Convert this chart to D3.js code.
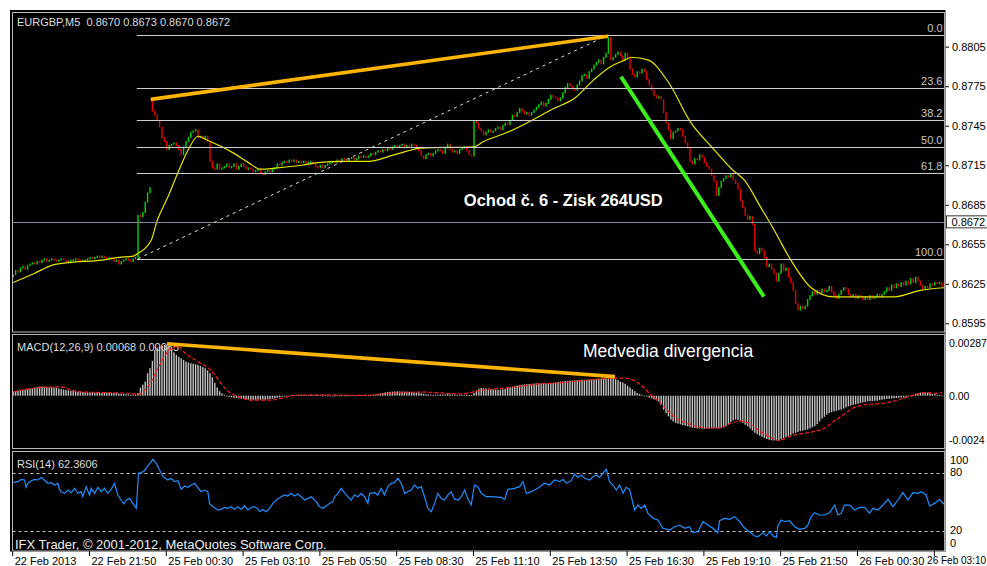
<!DOCTYPE html>
<html><head><meta charset="utf-8">
<script src="https://cdn.jsdelivr.net/npm/d3@7"></script>
<style>
html,body{margin:0;padding:0;background:#fff;overflow:hidden;}
svg{display:block;}
text{font-family:"Liberation Sans",Arial,sans-serif;}
</style></head><body>
<svg id="chart" width="987" height="566"></svg>
<script>
// ---------------- DATA ----------------
const headerLabel = "EURGBP,M5  0.8670 0.8673 0.8670 0.8672";
const macdLabel = "MACD(12,26,9) 0.00068 0.00085";
const rsiLabel = "RSI(14) 62.3606";
const copyrightLabel = "IFX Trader, \u00A9 2001-2012, MetaQuotes Software Corp.";
const tradeNote = "Ochod \u010D. 6 - Zisk 264USD";
const divergenceNote = "Medvedia divergencia";

// closes per 5-minute bar, in 1/10000 of a pound (8632 = 0.8632)
const closes = [
8632,8635,8634,8637,8638,8636,8639,8640,8641,8640,
8642,8641,8643,8644,8642,8643,8644,8643,8642,8643,
8644,8643,8642,8642,8643,8643,8644,8643,8642,8643,
8643,8644,8645,8644,8645,8646,8645,8646,8645,8644,
8645,8644,8642,8643,8640,8642,8643,8644,8643,8642,
8644,8645,8677,8676,8679,8687,8694,8698,8756,8753,
8749,8744,8736,8733,8727,8730,8731,8732,8730,8727,
8723,8729,8733,8736,8740,8741,8742,8736,8737,8735,
8737,8733,8718,8713,8712,8716,8712,8713,8714,8716,
8713,8714,8716,8712,8714,8716,8714,8712,8713,8712,
8710,8711,8712,8709,8708,8710,8711,8710,8712,8713,
8716,8715,8717,8718,8717,8719,8718,8719,8717,8718,
8717,8718,8716,8717,8718,8716,8714,8713,8715,8713,
8715,8716,8717,8718,8717,8719,8718,8720,8719,8718,
8720,8721,8719,8720,8722,8721,8722,8721,8722,8724,
8723,8725,8726,8725,8727,8726,8728,8727,8729,8730,
8729,8730,8731,8729,8730,8729,8731,8730,8728,8726,
8722,8720,8723,8724,8722,8724,8726,8727,8726,8724,
8728,8731,8727,8725,8726,8724,8727,8728,8729,8726,
8723,8722,8749,8747,8743,8741,8738,8740,8742,8740,
8741,8743,8744,8742,8745,8747,8746,8749,8753,8752,
8755,8758,8756,8754,8755,8753,8755,8757,8759,8761,
8763,8760,8762,8765,8768,8767,8766,8764,8766,8770,
8774,8777,8775,8773,8772,8776,8779,8783,8784,8781,
8786,8788,8791,8793,8795,8792,8797,8800,8812,8795,
8797,8799,8801,8798,8795,8800,8796,8788,8784,8782,
8786,8785,8788,8786,8780,8776,8772,8768,8766,8767,
8765,8755,8747,8742,8735,8740,8741,8743,8742,8737,
8732,8728,8718,8716,8720,8719,8723,8721,8717,8714,
8712,8707,8703,8692,8698,8703,8705,8707,8706,8708,
8704,8701,8697,8688,8683,8677,8674,8676,8670,8650,
8648,8652,8650,8645,8638,8640,8636,8633,8627,8633,
8640,8635,8637,8630,8626,8620,8610,8605,8608,8606,
8608,8613,8616,8619,8617,8620,8618,8621,8619,8620,
8623,8619,8616,8614,8617,8620,8622,8621,8617,8615,
8617,8614,8616,8615,8613,8615,8613,8616,8614,8615,
8617,8615,8617,8619,8622,8620,8624,8622,8625,8623,
8626,8624,8627,8625,8629,8626,8630,8627,8624,8621,
8623,8622,8625,8624,8626,8625,8626,8623,8622
];
// opens that differ from the previous close (first bar, Monday gap)
const explicitOpens = [[0, 8630], [58, 8766]];

// moving average: [bar, price*1e4]
const maPoints = [
[0,8626],[9,8633],[16,8639],[23,8641],[37,8643],[44,8645],[50,8646],[52,8648],
[57.5,8658],[60,8673],[64.5,8691],[69,8711],[73,8727],[77,8737],[81,8734],[87,8729],
[92,8724],[98,8717],[103,8712],[110,8713],[120,8715],[127,8717],[137,8718],[148,8718],
[159,8723],[170,8728],[192,8729],[196,8733],[206,8740],[216,8749],[224,8757],[234,8766],
[242,8780],[249,8790],[255,8795],[257.5,8797],[264.5,8795],[273,8778],[282.5,8747],
[291,8729],[300,8711],[304.5,8704],[311.5,8683],[317,8666],[324,8643],[332.5,8622],
[342,8615],[356,8615],[367,8615],[378,8620],[388,8622]
];

// MACD histogram per bar, in 1e-5
const macdHist = [
23,25,28,30,32,34,36,39,42,44,
47,50,50,49,48,47,47,45,42,39,
36,34,31,29,27,25,24,22,21,20,
19,18,18,17,17,16,16,15,16,17,
17,16,15,14,12,10,9,8,7,6,
5,6,15,43,60,77,122,150,190,249,
262,268,272,276,274,268,249,236,222,212,
204,195,186,181,177,174,171,168,162,156,
150,138,122,100,70,45,25,13,5,-4,
-7,-9,-11,-12,-14,-16,-18,-20,-21,-22,
-22,-23,-22,-22,-21,-22,-20,-18,-16,-15,
-12,-9,-6,-3,-1,0,2,3,4,5,
5,4,5,3,4,3,2,3,2,1,
2,1,1,0,1,2,1,2,1,2,
2,3,2,3,2,3,3,2,3,4,
5,7,9,12,15,18,20,21,22,23,
24,23,23,22,22,21,20,19,17,15,
13,10,8,7,6,5,5,6,7,6,
7,9,8,7,6,5,4,5,6,5,
4,3,15,28,38,42,41,40,38,36,
34,33,32,33,35,38,42,46,50,52,
55,58,60,62,63,64,65,66,67,68,
67,66,67,68,69,70,72,74,77,78,
80,81,82,83,84,85,86,87,87,88,
88,89,90,91,92,93,94,95,96,96,
95,90,85,77,72,65,55,45,35,25,
15,10,5,0,-5,-10,-14,-20,-25,-31,
-50,-76,-95,-112,-130,-140,-148,-152,-156,-160,
-163,-167,-170,-174,-176,-178,-179,-180,-180,-179,
-178,-178,-177,-176,-175,-174,-172,-168,-157,-145,
-135,-130,-132,-139,-148,-158,-166,-178,-190,-202,
-210,-218,-224,-230,-236,-240,-243,-244,-243,-241,
-238,-232,-226,-220,-214,-206,-202,-198,-193,-190,
-187,-184,-178,-172,-166,-155,-140,-125,-115,-103,
-95,-90,-85,-82,-79,-76,-70,-64,-58,-54,
-50,-47,-44,-40,-37,-34,-31,-30,-29,-28,
-27,-24,-22,-20,-18,-17,-15,-14,-13,-12,
-10,-9,-7,-5,-2,2,10,13,17,18,
18,17,14,10,8,5,3,2,-2
];

// MACD signal line: [bar, value*1e5]
const macdSignal = [
[0,20],[11.7,45],[20,48],[24,32],[28,21],[37,17],[49,12],[52,8],[57.5,77],[60,141],
[63,213],[66,260],[69,268],[71,240],[77,185],[82.5,137],[87,60],[89.5,25],[94,-5],
[99,-24],[107,-24],[113,-10],[116,0],[128,5],[145,2],[159,15],[170,20],[178,15],
[187,10],[195,30],[203,40],[212,52],[219,64],[228,70],[237,82],[245,92],[251,96],
[255,96],[259,80],[263,42],[266,0],[269,-31],[273,-85],[277,-130],[281,-150],
[285,-170],[290,-177],[294,-177],[299,-150],[303,-139],[307.5,-157],[310,-184],
[314.6,-220],[319,-244],[321,-238],[324,-220],[327,-211],[331,-202],[338,-177],
[342,-139],[346,-103],[350,-67],[354.6,-50],[359,-45],[364.6,-37],[369,-22],
[373,-5],[377,10],[380,17],[384,13],[387,17]
];

// RSI(14): [bar, value]
const rsiPoints = [
[0,70],[2,70.7],[3.3,73],[4.7,72.4],[5.4,64.8],[6.1,69],[7.5,71.7],[8.9,73],[10.3,72.4],
[11.7,75],[13,72.4],[14.4,69],[15.8,69.6],[17.2,67.2],[18.6,69],[19.3,62.7],[20,60.3],
[21.4,58.6],[22.8,62],[24.2,59.3],[25.6,63.8],[26.9,58.6],[28.3,60.3],[29,55.1],
[30.4,65.5],[31.8,56.9],[32.5,63.8],[33.9,58.6],[35.3,64.8],[36.7,60.3],[38,63.8],
[39.4,58.6],[40.8,62.7],[42.2,69],[43.6,56.9],[45,51.7],[46.1,47.6],[47.1,51.7],
[48.5,53.4],[49.9,48.2],[51.3,43.1],[52.2,79.3],[53.3,80],[54.7,82],[56.1,86.9],
[58.2,93.7],[59.6,89.6],[61,82.7],[62.4,75.8],[64.4,72.4],[65.8,74.1],[67.2,70.7],
[68.6,71.7],[70,62.7],[71.4,66.2],[72.8,64.8],[74.2,67.2],[75.6,69],[76.9,64.8],
[78.3,60.3],[79.7,62],[81.1,60.3],[81.8,48.2],[83.2,44.8],[85.3,41.4],[86.7,42],
[88.1,44.1],[89.4,43.1],[90.8,44.8],[92.2,42],[93.6,44.8],[95,42],[96.4,45.5],
[97.8,41.4],[99.2,44.1],[100.6,44.8],[101.9,43.1],[102.6,39.6],[104,42],[105.4,39.6],
[106.8,43.1],[108.2,48.2],[109.6,51.7],[111.7,55.1],[113.1,56.9],[114.4,55.8],
[115.8,58.6],[117.2,55.8],[118.6,57.9],[120,55.1],[121.4,51.7],[122.8,53.4],
[124.2,55.1],[126.3,50],[127.6,44.8],[129,43.1],[130.4,45.5],[131.8,48.2],[133.2,50],
[133.9,55.1],[135.3,58.6],[136.7,63.8],[138,59.3],[139.4,55.1],[140.8,51.7],
[142.2,56.9],[143.6,55.1],[145,58.6],[146.4,55.1],[147.8,48.2],[148.5,58.6],
[150.6,59.3],[151.9,56.9],[153.3,63.8],[154.7,56.9],[156.1,65.5],[157.5,69],
[158.9,69.6],[160.3,74.1],[161.7,69],[163.1,58.6],[164.4,60.3],[165.8,62],[167.2,67.2],
[168.6,63.8],[170,65.5],[171.4,55.1],[172.8,43.1],[174.2,39.6],[175.6,48.2],
[176.9,58.6],[178.3,53.4],[179.7,51.7],[181.1,56.9],[182.5,60.3],[183.9,52.4],
[185.3,51.7],[186.7,55.1],[188.1,62],[189.4,53.4],[190.8,46.5],[192.2,67.2],
[193.6,65.5],[195,58.6],[197.1,55.1],[199.2,55.1],[203.3,54.5],[204.8,52.4],
[206.1,62.7],[208.9,63.8],[211,65.5],[212.4,70.7],[213.8,58.6],[215.9,60.3],
[218.6,63.8],[221.4,69],[223.5,67.2],[225.6,72.4],[227.7,70.7],[229.1,73],[230.5,69],
[232.5,71.7],[233.9,78.6],[235.3,75.1],[236.7,77.5],[238.1,74.1],[240.2,72.4],
[241.6,75.8],[243,77.5],[244.3,75.1],[245.7,79.3],[247.1,83.4],[248.5,70.7],
[249.9,67.2],[251.3,62],[252.7,67.2],[254.1,58.6],[255.4,64.8],[256.8,62.7],
[258.9,41.4],[260.3,46.5],[261.7,43.1],[263.1,46.5],[264.5,37.9],[266.6,32.7],
[268.6,31],[270.7,22.4],[273.5,20.7],[275.6,24.1],[277.7,25.8],[279.8,22.4],
[281.8,24.1],[283.2,17.9],[285.3,18.9],[287.4,29.3],[289.5,25.8],[291.6,22.4],
[293.6,17.9],[294.3,30.3],[296.4,32.7],[298.5,31.7],[300.6,34.5],[302.7,29.3],
[304.8,22.4],[306.8,18.9],[308.9,14.5],[310.3,13.8],[312.4,17.9],[313.8,14.5],
[315.2,18.9],[316.6,14.5],[318,13.1],[318.6,24.8],[320,31],[321.4,29.3],[323.5,30.3],
[325.6,24.1],[327.7,21.4],[329.8,22.4],[331.1,25.8],[332.5,34.5],[333.9,38.6],
[336,36.2],[338.1,36.2],[340.2,38.6],[342.3,46.5],[343.6,36.2],[345,37.9],[346.4,46.5],
[348.5,46.5],[350.6,41.4],[352.7,44.1],[354.8,44.1],[356.8,37.9],[358.2,43.1],
[360.3,41.4],[362.4,46.5],[364.5,52.4],[366.6,44.8],[368.6,51.7],[370.7,59.3],
[372.8,51.7],[374.9,59.3],[377,58.6],[378.4,60.3],[380.4,56.9],[381.8,45.5],
[383.9,48.2],[386,52.4],[387.4,48.2],[388,47.6]
];

// axes
const priceTicks = [0.8805, 0.8775, 0.8745, 0.8715, 0.8685, 0.8655, 0.8625, 0.8595];
const currentPrice = 0.8672;
const macdTicks = [287, 0, -240];
const macdTickLabels = ["0.00287", "0.00", "-0.0024"];
const rsiTicks = [100, 80, 20, 0];
const rsiLevels = [80, 20];
const timeTickBars = [0, 32, 64, 96, 128, 160, 192, 224, 256, 288, 320, 352, 384];
const timeLabels = ["22 Feb 2013","22 Feb 21:50","25 Feb 00:30","25 Feb 03:10","25 Feb 05:50",
  "25 Feb 08:30","25 Feb 11:10","25 Feb 13:50","25 Feb 16:30","25 Feb 19:10",
  "25 Feb 21:50","26 Feb 00:30","26 Feb 03:10"];

// Fibonacci retracement
const fibLevels = [0, 23.6, 38.2, 50, 61.8, 100];
const fibHigh = 0.8814, fibLow = 0.8644;
const fibLowBar = 52, fibHighBar = 248;

// drawn trend lines: [bar, value]
const orangePriceLine = [[57.3, 0.8765], [247.8, 0.8813]];
const orangeMacdLine = [[64.1, 283], [250.75, 104]];
const greenPriceLine = [[253.25, 0.87822], [312.8, 0.86152]];
const tradeNoteAnchor = [187.75, 0.86840];
const divergenceNoteAnchor = [237.4, 211];

// ---------------- DRAW ----------------
const svg = d3.select("#chart");
const L = 12.5, R = 944.5, W = 987;
const panes = { main: [12.5, 332], macd: [334.5, 448.5], rsi: [451.5, 551] };
const FONT = "Liberation Sans, Arial, sans-serif";

svg.append("rect").attr("width", 987).attr("height", 566).attr("fill", "#fff");
svg.append("rect").attr("x", 10).attr("y", 10).attr("width", 935.5).attr("height", 541.5).attr("fill", "#000");

const defs = svg.append("defs");
Object.entries(panes).forEach(([k, [t, b]]) => {
  defs.append("clipPath").attr("id", "clip-" + k).append("rect")
    .attr("x", L + 0.5).attr("y", t + 0.5).attr("width", R - L - 1).attr("height", b - t - 1);
});

const xBar = d3.scaleLinear().domain([0, closes.length]).range([12, 945.6]);
const yPrice = d3.scaleLinear().domain([0.8595, 0.8805]).range([323.3, 46.7]);
const yMacd = d3.scaleLinear().domain([-244, 287]).range([440.5, 343]);
const yRsi = d3.scaleLinear().domain([0, 100]).range([550, 453.3]);

// ---- main pane ----
const gMain = svg.append("g").attr("clip-path", "url(#clip-main)");

const candles = closes.map((c, i) => {
  const ex = explicitOpens.find(e => e[0] === i);
  const o = ex ? ex[1] : closes[i - 1];
  return { i, o: o / 1e4, c: c / 1e4 };
});
gMain.selectAll("rect.cd").data(candles).join("rect").attr("class", "cd")
  .attr("x", d => xBar(d.i + 0.5) - 0.7)
  .attr("width", 1.4)
  .attr("y", d => yPrice(Math.max(d.o, d.c)) - 0.5)
  .attr("height", d => Math.max(1.2, Math.abs(yPrice(d.o) - yPrice(d.c)) + 1))
  .attr("fill", d => d.c > d.o ? "#00d800" : d.c < d.o ? "#e80000" : "#c8c800");

gMain.append("path").datum(maPoints)
  .attr("d", d3.line().x(d => xBar(d[0] + 0.5)).y(d => yPrice(d[1] / 1e4)).curve(d3.curveMonotoneX))
  .attr("fill", "none").attr("stroke", "#e6e600").attr("stroke-width", 1.2);

// fib lines
fibLevels.forEach(l => {
  const p = fibHigh - (fibHigh - fibLow) * l / 100;
  const y = Math.round(yPrice(p)) + 0.5;
  gMain.append("line").attr("x1", xBar(fibLowBar)).attr("x2", R).attr("y1", y).attr("y2", y)
    .attr("stroke", "#cfcfcf").attr("stroke-width", 1.2);
  gMain.append("text").attr("x", R - 2).attr("y", y - 3.5).attr("text-anchor", "end")
    .attr("font-size", 11).attr("fill", "#c8c8c8").text(d3.format(".1f")(l));
});
// current price line
{
  const y = Math.round(yPrice(currentPrice)) + 0.5;
  gMain.append("line").attr("x1", L).attr("x2", R).attr("y1", y).attr("y2", y)
    .attr("stroke", "#7f8a99").attr("stroke-width", 1);
}
// fib diagonal
gMain.append("line")
  .attr("x1", xBar(fibLowBar + 0.5)).attr("y1", yPrice(fibLow))
  .attr("x2", xBar(fibHighBar + 0.5)).attr("y2", yPrice(fibHigh))
  .attr("stroke", "#e0e0e0").attr("stroke-width", 1).attr("stroke-dasharray", "3,4");

const segLine = (pts, ys) => d3.line().x(d => xBar(d[0] + 0.5)).y(d => ys(d[1]))(pts);
gMain.append("path").attr("d", segLine(orangePriceLine, yPrice))
  .attr("stroke", "#ffb400").attr("stroke-width", 3.6).attr("fill", "none");
gMain.append("path").attr("d", segLine(greenPriceLine, yPrice))
  .attr("stroke", "#3cf01e").attr("stroke-width", 4).attr("fill", "none");

gMain.append("text").attr("x", xBar(tradeNoteAnchor[0] + 0.5)).attr("y", yPrice(tradeNoteAnchor[1]))
  .attr("font-size", 16.5).attr("font-weight", "bold").attr("fill", "#fff").text(tradeNote);

svg.append("text").attr("x", 17).attr("y", 26).attr("font-size", 11).attr("fill", "#dedede")
  .style("white-space", "pre").attr("xml:space", "preserve").text(headerLabel);

// ---- MACD pane ----
const gMacd = svg.append("g").attr("clip-path", "url(#clip-macd)");
gMacd.append("text").attr("x", 17).attr("y", 351).attr("font-size", 11).attr("fill", "#dedede").text(macdLabel);
gMacd.selectAll("rect.h").data(macdHist).join("rect").attr("class", "h")
  .attr("x", (d, i) => xBar(i + 0.5) - 0.7).attr("width", 1.4)
  .attr("y", d => Math.min(yMacd(d), yMacd(0)))
  .attr("height", d => Math.max(0.8, Math.abs(yMacd(d) - yMacd(0))))
  .attr("fill", "#c4c4c4");
gMacd.append("path").datum(macdSignal)
  .attr("d", d3.line().x(d => xBar(d[0] + 0.5)).y(d => yMacd(d[1])).curve(d3.curveMonotoneX))
  .attr("fill", "none").attr("stroke", "#ff1a1a").attr("stroke-width", 1.2).attr("stroke-dasharray", "4,2");
gMacd.append("path").attr("d", segLine(orangeMacdLine, yMacd))
  .attr("stroke", "#ffb400").attr("stroke-width", 3.6).attr("fill", "none");
gMacd.append("text").attr("x", xBar(divergenceNoteAnchor[0] + 0.5)).attr("y", yMacd(divergenceNoteAnchor[1]))
  .attr("font-size", 17.5).attr("fill", "#fff").text(divergenceNote);

// ---- RSI pane ----
const gRsi = svg.append("g").attr("clip-path", "url(#clip-rsi)");
rsiLevels.forEach(v => {
  const y = Math.round(yRsi(v)) + 0.5;
  gRsi.append("line").attr("x1", L).attr("x2", R).attr("y1", y).attr("y2", y)
    .attr("stroke", "#c8c8c8").attr("stroke-dasharray", "3,3");
});
gRsi.append("path").datum(rsiPoints)
  .attr("d", d3.line().x(d => xBar(d[0] + 0.5)).y(d => yRsi(d[1])))
  .attr("fill", "none").attr("stroke", "#1e8fff").attr("stroke-width", 1.2);
gRsi.append("text").attr("x", 17).attr("y", 468).attr("font-size", 11).attr("fill", "#dedede").text(rsiLabel);
gRsi.append("text").attr("x", 15).attr("y", 548.5).attr("font-size", 13).attr("fill", "#f0f0f0").text(copyrightLabel);

// ---- pane borders ----
Object.values(panes).forEach(([t, b]) => {
  svg.append("rect").attr("x", L).attr("y", t).attr("width", R - L).attr("height", b - t)
    .attr("fill", "none").attr("stroke", "#b8b8b8").attr("stroke-width", 1);
});

// ---- axes ----
const axPrice = svg.append("g").attr("transform", `translate(${R + 0.5},0)`).style("color", "#000")
  .call(d3.axisRight(yPrice).tickValues(priceTicks).tickFormat(d3.format(".4f")).tickSize(4).tickPadding(3));
axPrice.select(".domain").remove();
axPrice.selectAll("text").attr("font-size", 11).attr("font-family", FONT);

// current price tag
{
  const y = yPrice(currentPrice);
  svg.append("rect").attr("x", 946.5).attr("y", y - 6).attr("width", 42).attr("height", 12)
    .attr("fill", "#fff").attr("stroke", "#000").attr("stroke-width", 0.8);
  svg.append("text").attr("x", 951.5).attr("y", y + 4).attr("font-size", 11).attr("fill", "#000")
    .text(d3.format(".4f")(currentPrice));
}

const axMacd = svg.append("g").attr("transform", `translate(${R + 0.5},0)`).style("color", "#000")
  .call(d3.axisRight(yMacd).tickValues(macdTicks).tickFormat((d, k) => macdTickLabels[k]).tickSize(0).tickPadding(4));
axMacd.select(".domain").remove();
axMacd.selectAll("text").attr("font-size", 10.5).attr("font-family", FONT);

const axRsi = svg.append("g").attr("transform", `translate(${R + 0.5},0)`).style("color", "#000")
  .call(d3.axisRight(yRsi).tickValues(rsiTicks).tickSize(0).tickPadding(5));
axRsi.select(".domain").remove();
axRsi.selectAll("text").attr("font-size", 11).attr("font-family", FONT);
axRsi.selectAll(".tick").attr("transform", d => {
  const y = Math.max(panes.rsi[0] + 8.5, Math.min(panes.rsi[1] - 8, yRsi(d)));
  return `translate(0,${y})`;
});

const axTime = svg.append("g").attr("transform", `translate(0,${panes.rsi[1]})`).style("color", "#000")
  .call(d3.axisBottom(xBar).tickValues(timeTickBars).tickFormat((d, k) => timeLabels[k]).tickSize(5).tickPadding(1));
axTime.select(".domain").remove();
axTime.selectAll(".tick").attr("transform", d => `translate(${xBar(d) + 0.7},0)`);
axTime.selectAll("text").attr("font-size", 11).attr("text-anchor", "start").attr("x", 2)
  .attr("font-family", FONT);
// keep the last label inside the picture: shrink it, then nudge it left if still needed
axTime.selectAll(".tick").each(function () {
  const t = d3.select(this).select("text");
  const tx = xBar(d3.select(this).datum()) + 0.7;
  if (tx + 2 + t.node().getComputedTextLength() > W - 1) {
    t.attr("font-size", 10);
    const w = t.node().getComputedTextLength();
    if (tx + 2 + w > W - 1) t.attr("x", W - 1 - w - tx);
  }
});

// right axis line
svg.append("line").attr("x1", R + 0.5).attr("x2", R + 0.5).attr("y1", 12).attr("y2", 551.5)
  .attr("stroke", "#9a9a9a");
</script>
</body></html>
